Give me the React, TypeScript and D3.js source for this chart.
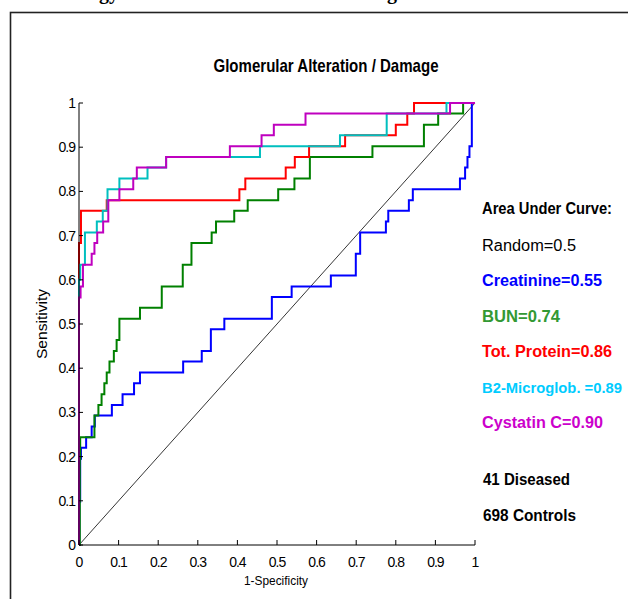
import React from "react";
import * as d3 from "d3";

// ROC step points: [1-specificity, sensitivity] at each jump
const creatinine: [number, number][] = [
  [0, 0], [0.001, 0.098], [0.003, 0.195], [0.005, 0.22], [0.018, 0.244], [0.032, 0.268],
  [0.04, 0.293], [0.083, 0.317], [0.11, 0.341], [0.139, 0.366], [0.154, 0.39], [0.263, 0.415],
  [0.31, 0.439], [0.333, 0.488], [0.367, 0.512], [0.487, 0.561], [0.537, 0.585], [0.636, 0.61],
  [0.699, 0.659], [0.71, 0.707], [0.775, 0.732], [0.781, 0.756], [0.833, 0.78], [0.843, 0.805],
  [0.962, 0.829], [0.975, 0.854], [0.981, 0.878], [0.986, 0.902], [0.992, 1], [1, 1],
];
const bun: [number, number][] = [
  [0, 0], [0.002, 0.195], [0.003, 0.244], [0.039, 0.293], [0.049, 0.317], [0.057, 0.341],
  [0.064, 0.366], [0.07, 0.39], [0.077, 0.415], [0.088, 0.439], [0.095, 0.464], [0.102, 0.512],
  [0.154, 0.537], [0.209, 0.585], [0.262, 0.634], [0.284, 0.683], [0.335, 0.707], [0.346, 0.732],
  [0.392, 0.756], [0.426, 0.78], [0.503, 0.805], [0.544, 0.829], [0.583, 0.878], [0.741, 0.902],
  [0.871, 0.951], [0.907, 0.976], [0.97, 1], [1, 1],
];
const totProtein: [number, number][] = [
  [0, 0], [0, 0.683], [0.005, 0.756], [0.07, 0.78], [0.405, 0.805], [0.42, 0.829], [0.522, 0.854],
  [0.545, 0.878], [0.581, 0.902], [0.672, 0.927], [0.8, 0.951], [0.829, 0.976], [0.846, 1], [1, 1],
];
const b2Microglob: [number, number][] = [
  [0, 0], [0, 0.6], [0.003, 0.634], [0.015, 0.707], [0.045, 0.732], [0.06, 0.756], [0.072, 0.805],
  [0.102, 0.829], [0.173, 0.854], [0.22, 0.878], [0.457, 0.902], [0.659, 0.927], [0.777, 0.976],
  [0.928, 1], [1, 1],
];
const cystatinC: [number, number][] = [
  [0, 0], [0, 0.56], [0.004, 0.585], [0.01, 0.634], [0.032, 0.659], [0.039, 0.683], [0.046, 0.707],
  [0.061, 0.732], [0.074, 0.78], [0.102, 0.805], [0.137, 0.829], [0.146, 0.854], [0.22, 0.878],
  [0.381, 0.902], [0.461, 0.927], [0.492, 0.951], [0.572, 0.976], [0.937, 1], [1, 1],
];

const seriesData = [creatinine, bun, totProtein, b2Microglob, cystatinC];
const seriesNames = ["Creatinine", "BUN", "Tot. Protein", "B2-Microglob. ", "Cystatin C"];
const aucValues = ["0.55", "0.74", "0.86", "0.89", "0.90"];
const lineColors = ["#0000ff", "#008000", "#ff0000", "#00bfbf", "#bf00bf"];
const labelColors = ["#0000ff", "#339933", "#ff0000", "#00ccff", "#cc00cc"];
const tickValues = [0, 0.1, 0.2, 0.3, 0.4, 0.5, 0.6, 0.7, 0.8, 0.9, 1];
const tickLabels = ["0", "0.1", "0.2", "0.3", "0.4", "0.5", "0.6", "0.7", "0.8", "0.9", "1"];
const diseased = 41;
const controls = 698;

const font = "Arial, 'Liberation Sans', sans-serif";

const App = () => {
  const width = 628;
  const height = 599;
  const x = d3.scaleLinear().domain([0, 1]).range([79, 475]);
  const y = d3.scaleLinear().domain([0, 1]).range([545, 103]);
  const line = d3
    .line<[number, number]>()
    .x((d) => x(d[0]))
    .y((d) => y(d[1]))
    .curve(d3.curveStepAfter);

  // legend widths (narrow export font)
  const legendW = [120, 78, 130, 140, 121];
  const legendSize = [16, 16, 16, 14.5, 16];

  return (
    <svg
      width={width}
      height={height}
      style={{ position: "absolute", left: 0, top: 0, background: "#fff" }}
    >
      {/* heading above the figure frame, cut by the page top as in the source */}
      <g fontFamily="'Liberation Serif', 'Times New Roman', serif" fontWeight="bold" fontSize={20}>
        <text x={119} y={-1} textAnchor="end">Toxicology</text>
        <text x={397} y={-1} textAnchor="end">Renal Biomarker Testing</text>
      </g>
      <rect x={10.5} y={12.5} width={700} height={700} fill="none" stroke="#222" strokeWidth={1.6} />

      <text
        x={326}
        y={72}
        textAnchor="middle"
        fontFamily={font}
        fontWeight="bold"
        fontSize={19}
        textLength={225}
        lengthAdjust="spacingAndGlyphs"
      >
        Glomerular Alteration / Damage
      </text>

      {/* reference diagonal */}
      <line x1={x(0)} y1={y(0)} x2={x(1)} y2={y(1)} stroke="#000" strokeWidth={0.8} />

      {seriesData.map((s, i) => (
        <path key={i} d={line(s) || ""} fill="none" stroke={lineColors[i]} strokeWidth={2} />
      ))}

      {/* axes */}
      <g stroke="#000" strokeWidth={1}>
        <line x1={x(0)} y1={y(0)} x2={x(0)} y2={y(1)} />
        <line x1={x(0)} y1={y(0)} x2={x(1)} y2={y(0)} />
        {tickValues.map((t) => (
          <g key={t}>
            <line x1={x(0)} y1={y(t)} x2={x(0) + 4} y2={y(t)} />
            <line x1={x(t)} y1={y(0)} x2={x(t)} y2={y(0) - 5} />
          </g>
        ))}
      </g>
      <g fontFamily={font} fontSize={14} letterSpacing="-1px" fill="#000">
        {tickValues.map((t, i) => (
          <text key={"y" + t} x={75} y={y(t) + 5} textAnchor="end">
            {tickLabels[i]}
          </text>
        ))}
        {tickValues.map((t, i) => (
          <text key={"x" + t} x={x(t)} y={567} textAnchor="middle">
            {tickLabels[i]}
          </text>
        ))}
      </g>
      <text
        x={276}
        y={585}
        textAnchor="middle"
        fontFamily={font}
        fontSize={13}
        textLength={64}
        lengthAdjust="spacingAndGlyphs"
      >
        1-Specificity
      </text>
      <text
        transform={`translate(47,${(y(0) + y(1)) / 2}) rotate(-90)`}
        textAnchor="middle"
        fontFamily={font}
        fontSize={14}
        textLength={70}
        lengthAdjust="spacingAndGlyphs"
      >
        Sensitivity
      </text>

      {/* legend */}
      <g fontFamily={font} fontSize={16}>
        <text x={482} y={214} fontWeight="bold" textLength={130} lengthAdjust="spacingAndGlyphs">
          Area Under Curve:
        </text>
        <text x={482} y={251} textLength={94} lengthAdjust="spacingAndGlyphs">
          Random=0.5
        </text>
        {seriesNames.map((n, i) => (
          <text
            key={n}
            x={482}
            y={286 + i * 35.6}
            fontWeight="bold"
            fontSize={legendSize[i]}
            fill={labelColors[i]}
            textLength={legendW[i]}
            lengthAdjust="spacingAndGlyphs"
          >
            {`${n}=${aucValues[i]}`}
          </text>
        ))}
        <text x={483} y={485} fontWeight="bold" textLength={87} lengthAdjust="spacingAndGlyphs">
          {`${diseased} Diseased`}
        </text>
        <text x={483} y={521} fontWeight="bold" textLength={93} lengthAdjust="spacingAndGlyphs">
          {`${controls} Controls`}
        </text>
      </g>
    </svg>
  );
};

export default App;
